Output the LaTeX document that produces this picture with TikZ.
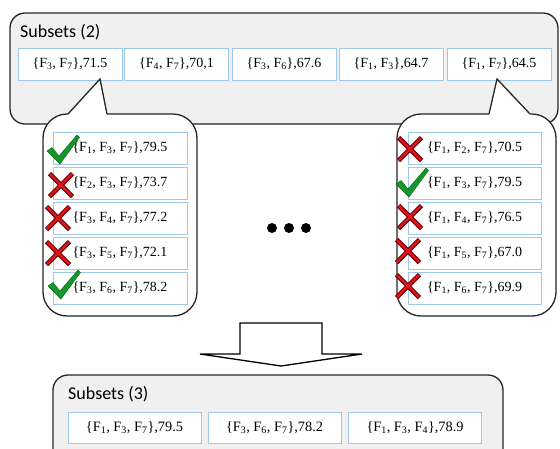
\documentclass[tikz,border=0pt]{standalone}
\usepackage{fontspec}
\setmainfont{Liberation Serif}
\newfontfamily\titlefont{Carlito}
\definecolor{boxblue}{RGB}{160,200,238}
\definecolor{panelgray}{RGB}{240,240,240}
\definecolor{okgreen}{RGB}{20,150,40}
\definecolor{okdark}{RGB}{10,100,25}
\definecolor{nored}{RGB}{225,20,30}
\definecolor{nodark}{RGB}{110,0,0}
\newcommand\fsub[1]{F\textsubscript{#1}}
\tikzset{
  panel/.style={draw=black!85, line width=1.3pt, fill=panelgray, rounded corners=15pt},
  bubble/.style={draw=black!85, line width=1.3pt, fill=white, rounded corners=24pt},
  pointer/.style={draw=black!85, line width=1.3pt, line join=miter},
  itembox/.style={draw=boxblue, line width=1pt, fill=white, inner sep=0pt,
    minimum height=32pt, font=\fontsize{14}{16}\selectfont},
  topbox/.style={itembox, minimum width=104pt},
  sidebox/.style={itembox, minimum width=134pt, font=\fontsize{14}{16}\selectfont},
  lowbox/.style={itembox, minimum width=133pt, minimum height=31pt, font=\fontsize{14.3}{16}\selectfont},
  title/.style={anchor=west, inner sep=0pt, font=\titlefont\fontsize{18}{22}\selectfont},
  checkmk/.pic={
    \fill[okgreen, draw=okdark, line width=0.4pt]
      (-16,1) -- (-11,-2.5) -- (-4,6) -- (14,-15) -- (16.5,-12.5) -- (-3,14) -- cycle;
  },
  crossmk/.pic={
    \draw[nodark, line width=4.6pt] (-11.5,-11.5) -- (11.5,11.5) (-11.5,11.5) -- (11.5,-11.5);
    \draw[nored, line width=2.4pt] (-11,-11) -- (11,11) (-11,11) -- (11,-11);
  },
  dot/.style={circle, fill=black, inner sep=0pt, minimum size=10pt}
}
\begin{document}
\begin{tikzpicture}[x=1pt, y=-1pt]
\useasboundingbox (0,0) rectangle (560,448);

% upper panel: subsets of size two
\draw[panel] (10,13) rectangle (558,124);
\node[title] (t2) at (20,32) {Subsets (2)};
\node[topbox] (a1) at (70,64) {\{\fsub{3}, \fsub{7}\},71.5};
\node[topbox] (a2) at (176.5,64) {\{\fsub{4}, \fsub{7}\},70,1};
\node[topbox] (a3) at (284,64) {\{\fsub{3}, \fsub{6}\},67.6};
\node[topbox] (a4) at (391,64) {\{\fsub{1}, \fsub{3}\},64.7};
\node[topbox] (a5) at (499,64) {\{\fsub{1}, \fsub{7}\},64.5};

% left callout, pointing at the first pair
\coordinate (ltip) at (100,79);
\coordinate (lbl) at (68,114);
\coordinate (lbr) at (107,114);
\draw[bubble] (43,114) rectangle (197,316);
\fill[white] (lbl) -- (ltip) -- (lbr) -- (107,116) -- (68,116) -- cycle;
\draw[pointer] (lbl) -- (ltip) -- (lbr);
\node[sidebox] (b1) at (120,148) {\{\fsub{1}, \fsub{3}, \fsub{7}\},79.5};
\node[sidebox] (b2) at (120,183) {\{\fsub{2}, \fsub{3}, \fsub{7}\},73.7};
\node[sidebox] (b3) at (120,218) {\{\fsub{3}, \fsub{4}, \fsub{7}\},77.2};
\node[sidebox] (b4) at (120,253) {\{\fsub{3}, \fsub{5}, \fsub{7}\},72.1};
\node[sidebox] (b5) at (120,288) {\{\fsub{3}, \fsub{6}, \fsub{7}\},78.2};
\pic at (63,150) {checkmk};
\pic at (61,185) {crossmk};
\pic at (58,218) {crossmk};
\pic at (58,253) {crossmk};
\pic at (64,285) {checkmk};

% right callout, pointing at the last pair
\coordinate (rtip) at (497,79);
\coordinate (rbl) at (489,114);
\coordinate (rbr) at (530,114);
\draw[bubble] (397,114) rectangle (556,316);
\fill[white] (rbl) -- (rtip) -- (rbr) -- (530,116) -- (489,116) -- cycle;
\draw[pointer] (rbl) -- (rtip) -- (rbr);
\node[sidebox, minimum width=133pt] (c1) at (474.5,148) {\{\fsub{1}, \fsub{2}, \fsub{7}\},70.5};
\node[sidebox, minimum width=133pt] (c2) at (474.5,183) {\{\fsub{1}, \fsub{3}, \fsub{7}\},79.5};
\node[sidebox, minimum width=133pt] (c3) at (474.5,218) {\{\fsub{1}, \fsub{4}, \fsub{7}\},76.5};
\node[sidebox, minimum width=133pt] (c4) at (474.5,253) {\{\fsub{1}, \fsub{5}, \fsub{7}\},67.0};
\node[sidebox, minimum width=133pt] (c5) at (474.5,288) {\{\fsub{1}, \fsub{6}, \fsub{7}\},69.9};
\pic at (410,149) {crossmk};
\pic at (412,183) {checkmk};
\pic at (410,217) {crossmk};
\pic at (408,251) {crossmk};
\pic at (408,286) {crossmk};

% ellipsis between the callouts
\node[dot] (d1) at (272,228) {};
\node[dot] (d2) at (289,228) {};
\node[dot] (d3) at (306,228) {};

% block arrow down to the next level
\draw[fill=white, line width=1.3pt, line join=miter]
  (240,323) -- (322,323) -- (322,354) -- (362,354) -- (281,366) -- (200,354) -- (240,354) -- cycle;

% lower panel: subsets of size three
\draw[panel] (53,375) rectangle (503,470);
\node[title] (t3) at (68,394) {Subsets (3)};
\node[lowbox] (e1) at (134.5,427.5) {\{\fsub{1}, \fsub{3}, \fsub{7}\},79.5};
\node[lowbox] (e2) at (274.5,427.5) {\{\fsub{3}, \fsub{6}, \fsub{7}\},78.2};
\node[lowbox] (e3) at (415,427.5) {\{\fsub{1}, \fsub{3}, \fsub{4}\},78.9};
\end{tikzpicture}
\end{document}
